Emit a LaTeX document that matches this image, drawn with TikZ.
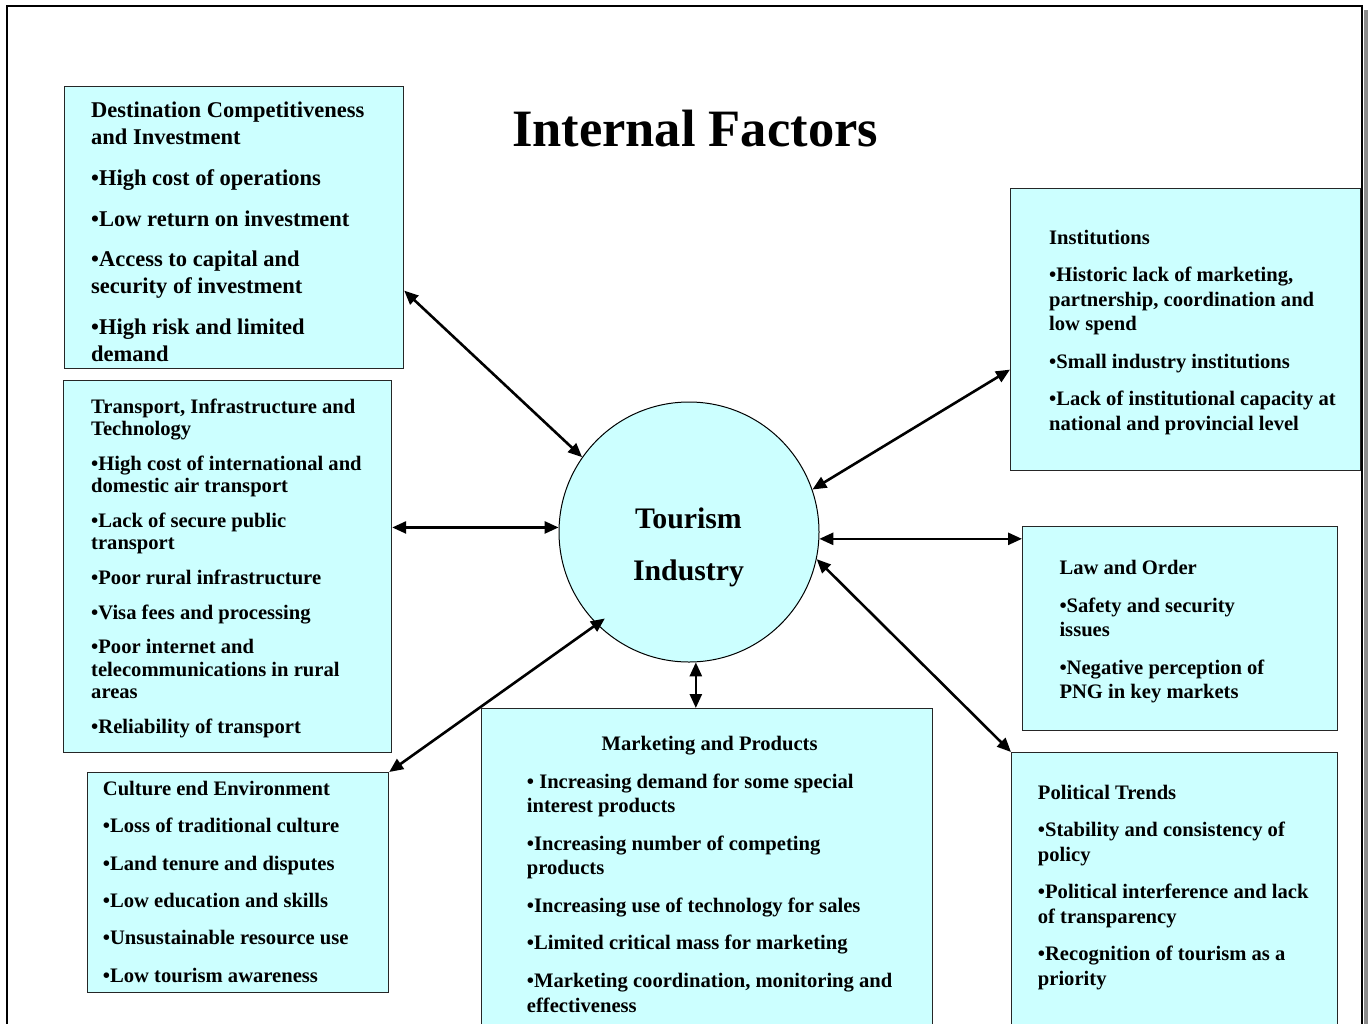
\documentclass[tikz,border=0pt]{standalone}
\usepackage{fontspec}
\setmainfont{Liberation Serif}
\usetikzlibrary{arrows.meta,calc}
\definecolor{boxcyan}{HTML}{CCFFFF}
\definecolor{shadowgrey}{HTML}{8C8C8C}
\newcommand{\fsz}[2]{\fontsize{#1}{#2}\selectfont\bfseries}
\begin{document}
\begin{tikzpicture}[x=1pt,y=-1pt,
  box/.style={draw=black!85, line width=1.2pt, fill=boxcyan, inner sep=0pt, anchor=north west},
  txt/.style={anchor=base west, inner sep=0pt},
  conn/.style={line width=2.6pt, {Triangle[length=14pt,width=12pt]}-{Triangle[length=14pt,width=12pt]}}]
\clip (0,0) rectangle (1370,1023);
\fill[white] (0,0) rectangle (1370,1023);
% outer frame with shadow
\fill[shadowgrey] (1363.5,10) rectangle (1367.5,1040);
\draw[line width=1.8pt] (7,1040) -- (7,6) -- (1362,6) -- (1362,1040);

% title
\node[anchor=base, inner sep=0pt, font=\fsz{52.5}{60}] (title) at (695,146) {Internal Factors};

% boxes
\node[box, minimum width=339pt, minimum height=282pt] (dest) at (64,86) {};
\node[box, minimum width=328pt, minimum height=372pt] (trans) at (63,380) {};
\node[box, minimum width=301pt, minimum height=220pt] (cult) at (87,772) {};
\node[box, minimum width=451pt, minimum height=332pt] (mkt) at (481,708) {};
\node[box, minimum width=350pt, minimum height=282pt] (inst) at (1010,188) {};
\node[box, minimum width=315pt, minimum height=204pt] (law) at (1022,526) {};
\node[box, minimum width=326pt, minimum height=288pt] (pol) at (1011,752) {};

% central circle
\node[circle, draw=black, line width=1pt, fill=boxcyan, minimum size=260pt, inner sep=0pt] (tour) at (689,532) {};
\node[anchor=base, inner sep=0pt, font=\fsz{29.8}{52}] (tourT) at (688.5,528)
  {\begin{tabular}[t]{@{}c@{}}Tourism\\Industry\end{tabular}};

% texts
\node[txt, font=\fsz{22.5}{27}] (destT) at (91,117.5) {\begin{tabular}[t]{@{}l@{}}
Destination Competitiveness\\
and Investment\\[13.8pt]
•High cost of operations\\[13.8pt]
•Low return on investment\\[13.8pt]
•Access to capital and\\
security of investment\\[13.8pt]
•High risk and limited\\
demand
\end{tabular}};

\node[txt, font=\fsz{20.6}{22.3}] (transT) at (91,413.5) {\begin{tabular}[t]{@{}l@{}}
Transport, Infrastructure and\\
Technology\\[12.4pt]
•High cost of international and\\
domestic air transport\\[12.4pt]
•Lack of secure public\\
transport\\[12.4pt]
•Poor rural infrastructure\\[12.4pt]
•Visa fees and processing\\[12.4pt]
•Poor internet and\\
telecommunications in rural\\
areas\\[12.4pt]
•Reliability of transport
\end{tabular}};

\node[txt, font=\fsz{20.6}{22.3}] (cultT) at (102.7,795.5) {\begin{tabular}[t]{@{}l@{}}
Culture end Environment\\[15pt]
•Loss of traditional culture\\[15pt]
•Land tenure and disputes\\[15pt]
•Low education and skills\\[15pt]
•Unsustainable resource use\\[15pt]
•Low tourism awareness
\end{tabular}};

\node[txt, font=\fsz{20.6}{24.7}] (mktT) at (526.7,750.5) {\begin{tabular}[t]{@{}l@{}}
\multicolumn{1}{@{}c@{}}{Marketing and Products}\\[12.8pt]
• Increasing demand for some special\\
interest products\\[12.8pt]
•Increasing number of competing\\
products\\[12.8pt]
•Increasing use of technology for sales\\[12.8pt]
•Limited critical mass for marketing\\[12.8pt]
•Marketing coordination, monitoring and\\
effectiveness
\end{tabular}};

\node[txt, font=\fsz{20.6}{24.7}] (instT) at (1049,244) {\begin{tabular}[t]{@{}l@{}}
Institutions\\[12.8pt]
•Historic lack of marketing,\\
partnership, coordination and\\
low spend\\[12.8pt]
•Small industry institutions\\[12.8pt]
•Lack of institutional capacity at\\
national and provincial level
\end{tabular}};

\node[txt, font=\fsz{20.6}{24.7}] (lawT) at (1059.3,574.5) {\begin{tabular}[t]{@{}l@{}}
Law and Order\\[12.8pt]
•Safety and security\\
issues\\[12.8pt]
•Negative perception of\\
PNG in key markets
\end{tabular}};

\node[txt, font=\fsz{20.6}{24.7}] (polT) at (1037.7,799) {\begin{tabular}[t]{@{}l@{}}
Political Trends\\[12.8pt]
•Stability and consistency of\\
policy\\[12.8pt]
•Political interference and lack\\
of transparency\\[12.8pt]
•Recognition of tourism as a\\
priority
\end{tabular}};

% connectors
\draw[conn] ([yshift=-63pt]dest.east) -- (tour.145);
\draw[conn] (tour.178 -| trans.east) -- (tour.178);
\draw[conn, shorten >=-10pt] (cult.north east) -- (tour.225);
\draw[conn] (tour.273) -- (tour.273 |- mkt.north);
\draw[conn] (tour.19) -- ([yshift=-40pt]inst.west);
\draw[conn] (tour.-3) -- (tour.-3 -| law.west);
\draw[conn] (tour.-12) -- (pol.north west);
\end{tikzpicture}
\end{document}
